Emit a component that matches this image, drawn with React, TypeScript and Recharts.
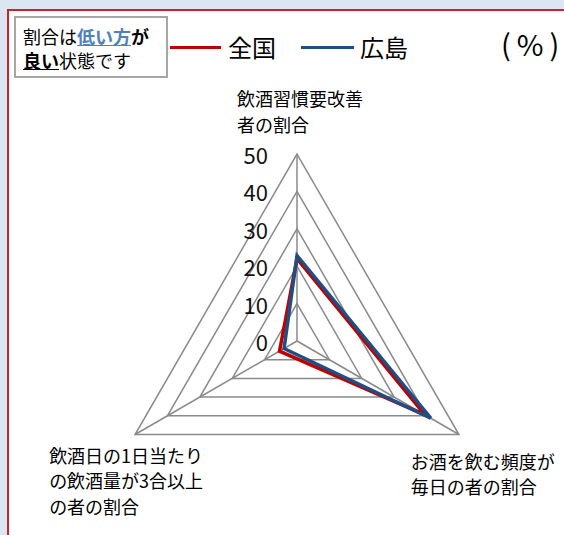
import React from 'react';
import { RadarChart, Radar, PolarGrid, PolarAngleAxis, PolarRadiusAxis } from 'recharts';

const categories = ['飲酒習慣要改善\n者の割合', 'お酒を飲む頻度が\n毎日の者の割合', '飲酒日の1日当たり\nの飲酒量が3合以上\nの者の割合'];
const zenkokuValues = [22.0, 39.5, 5.4];
const hiroshimaValues = [22.8, 41.3, 4.0];
const radiusTicks = [0, 10, 20, 30, 40, 50];
const seriesNames = ['全国', '広島'];

const data = categories.map((c, i) => ({ category: c, zenkoku: zenkokuValues[i], hiroshima: hiroshimaValues[i] }));

const FONT = "'Noto Sans CJK JP', 'Noto Sans', sans-serif";
const RED = '#c00000';
const BLUE = '#1f4e85';

const labelOffsets = [
  { dx: -60, dy: -48 },
  { dx: -55, dy: 22 },
  { dx: -79, dy: 16 },
];

const AngleTick = (props: any) => {
  const { x, y, payload, index } = props;
  const lines = String(payload.value).split('\n');
  const off = labelOffsets[index] || { dx: 0, dy: 0 };
  return (
    <g>
      {lines.map((l, i) => (
        <text key={i} x={x + off.dx} y={y + off.dy + i * 25.5} textAnchor="start" dominantBaseline="central" fontSize={18} fill="#000" fontFamily={FONT}>
          {l}
        </text>
      ))}
    </g>
  );
};

const RadiusTick = (props: any) => {
  const { x, y, payload } = props;
  return (
    <text x={x - 29} y={y} textAnchor="end" dominantBaseline="central" fontSize={22} fill="#111" fontFamily={FONT}>
      {payload.value}
    </text>
  );
};

export default function App() {
  return (
    <div style={{ position: 'absolute', left: 0, top: 0, width: 564, height: 535, overflow: 'hidden', background: '#dce6f0', fontFamily: FONT }}>
      <div style={{ position: 'absolute', left: 7, top: 9, width: 620, height: 600, border: '2px solid #c8242b', background: '#fff' }} />
      <div style={{ position: 'absolute', left: 0, top: 0 }}>
        <RadarChart width={564} height={535} data={data} cx={297} cy={341} outerRadius={187} startAngle={90} endAngle={-270}>
          <PolarGrid gridType="polygon" stroke="#8a8a8a" strokeWidth={1.5} />
          <PolarAngleAxis dataKey="category" tick={<AngleTick />} tickLine={false} axisLine={false} />
          <PolarRadiusAxis angle={90} domain={[0, 50]} ticks={radiusTicks as any} tickCount={6} axisLine={false} tick={<RadiusTick />} />
          <Radar name={seriesNames[0]} dataKey="zenkoku" stroke={RED} strokeWidth={3.5} fill="none" fillOpacity={0} isAnimationActive={false} dot={false} />
          <Radar name={seriesNames[1]} dataKey="hiroshima" stroke={BLUE} strokeWidth={3.5} fill="none" fillOpacity={0} isAnimationActive={false} dot={false} />
        </RadarChart>
      </div>
      <div style={{ position: 'absolute', left: 14, top: 16, width: 154, height: 62, border: '2px solid #a6a6a6', background: '#fff', fontSize: 18, lineHeight: '24px', padding: '6px 0 0 7px', boxSizing: 'border-box', color: '#000', whiteSpace: 'nowrap' }}>
        <div>割合は<span style={{ color: '#4f81bd', fontWeight: 700, textDecoration: 'underline' }}>低い方</span><span style={{ fontWeight: 700 }}>が</span></div>
        <div><span style={{ fontWeight: 700, textDecoration: 'underline' }}>良い</span>状態です</div>
      </div>
      <div style={{ position: 'absolute', left: 170, top: 46, width: 51, height: 3, background: RED }} />
      <div style={{ position: 'absolute', left: 228, top: 32, fontSize: 24, lineHeight: '30px', color: '#000' }}>{seriesNames[0]}</div>
      <div style={{ position: 'absolute', left: 301, top: 46, width: 53, height: 3, background: BLUE }} />
      <div style={{ position: 'absolute', left: 360, top: 32, fontSize: 24, lineHeight: '30px', color: '#000' }}>{seriesNames[1]}</div>
      <div style={{ position: 'absolute', left: 501, top: 25, fontSize: 29, lineHeight: '36px', letterSpacing: 6, color: '#000' }}>(%)</div>
    </div>
  );
}
